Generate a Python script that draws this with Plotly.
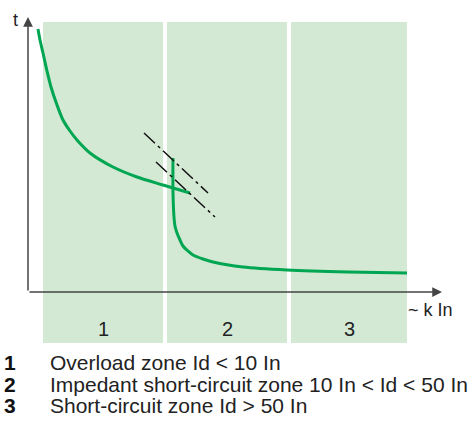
import plotly.graph_objects as go

# Zone extents along the current axis (arbitrary units, origin at the axes corner)
zone_labels = ["1", "2", "3"]
zone_left = [15, 139, 263]
zone_right = [135, 259, 379]
zone_top = 270
zone_bottom = -51

# Overload (long-time) branch of the tripping curve
overload_x = [10, 12, 15, 19, 23, 29, 35, 42, 49, 62, 85, 109, 135, 162]
overload_t = [263, 252, 239, 221, 205, 187, 172, 161, 152, 139, 125, 115, 107, 99]

# Short-time / instantaneous branch
short_x = [145, 145, 146, 147, 149, 152, 155, 160, 165, 175, 185, 215, 259, 320, 379]
short_t = [134, 100, 75, 66, 59, 52, 46, 41, 37, 33, 30, 25, 22, 20, 19]

# Dash-dot tolerance band lines
band_a_x = [116, 180]
band_a_t = [159, 99]
band_b_x = [128, 187]
band_b_t = [130, 75]

legend_nums = ["1", "2", "3"]
legend_texts = [
    "Overload zone Id < 10 In",
    "Impedant short-circuit zone 10 In < Id < 50 In",
    "Short-circuit zone Id > 50 In",
]

FONT = "Arial, Liberation Sans, sans-serif"
GREEN = "#00a651"
ZONE_FILL = "#d3e9d3"
AXIS = "#444444"

fig = go.Figure()

# Zone backgrounds
shapes = []
for x0, x1 in zip(zone_left, zone_right):
    shapes.append(dict(type="rect", xref="x", yref="y", x0=x0, x1=x1,
                       y0=zone_bottom, y1=zone_top, fillcolor=ZONE_FILL,
                       line=dict(width=0), layer="below"))

fig.add_trace(go.Scatter(x=overload_x, y=overload_t, mode="lines",
                         line=dict(color=GREEN, width=3, shape="spline", smoothing=0.8),
                         hoverinfo="skip"))
fig.add_trace(go.Scatter(x=short_x, y=short_t, mode="lines",
                         line=dict(color=GREEN, width=3, shape="spline", smoothing=0.8),
                         hoverinfo="skip"))
for bx, bt in ((band_a_x, band_a_t), (band_b_x, band_b_t)):
    fig.add_trace(go.Scatter(x=bx, y=bt, mode="lines",
                             line=dict(color="#111111", width=1.5,
                                       dash="15px,4px,3px,4px"),
                             hoverinfo="skip"))

annotations = []
# Axes with arrowheads
annotations.append(dict(x=0, y=275, ax=0, ay=0, xref="x", yref="y",
                        axref="x", ayref="y", showarrow=True, arrowhead=2,
                        arrowsize=1.3, arrowwidth=1.5, arrowcolor=AXIS, text=""))
annotations.append(dict(x=414, y=0, ax=0, ay=0, xref="x", yref="y",
                        axref="x", ayref="y", showarrow=True, arrowhead=2,
                        arrowsize=1.3, arrowwidth=1.5, arrowcolor=AXIS, text=""))
annotations.append(dict(x=-13, y=272, xref="x", yref="y", text="t",
                        showarrow=False, font=dict(family=FONT, size=18, color="#222")))
annotations.append(dict(x=427, y=-18, xref="x", yref="y", text="~ k In",
                        showarrow=False, xanchor="right",
                        font=dict(family=FONT, size=18, color="#222")))
for lbl, x0, x1 in zip(zone_labels, zone_left, zone_right):
    annotations.append(dict(x=(x0 + x1) / 2, y=-37, xref="x", yref="y", text=lbl,
                            showarrow=False,
                            font=dict(family=FONT, size=20, color="#222")))

legend_y = [-70, -92, -113]
for num, txt, ly in zip(legend_nums, legend_texts, legend_y):
    annotations.append(dict(x=-18, y=ly, xref="x", yref="y", text="<b>%s</b>" % num,
                            showarrow=False, xanchor="center",
                            font=dict(family=FONT, size=21, color="#111")))
    annotations.append(dict(x=20, y=ly, xref="x", yref="y", text=txt,
                            showarrow=False, xanchor="left",
                            font=dict(family=FONT, size=21, color="#222")))

fig.update_layout(
    width=475, height=423,
    margin=dict(l=0, r=0, t=0, b=0),
    paper_bgcolor="white", plot_bgcolor="white",
    showlegend=False,
    shapes=shapes,
    annotations=annotations,
    xaxis=dict(range=[-28, 447], visible=False, fixedrange=True),
    yaxis=dict(range=[-131, 292], visible=False, fixedrange=True),
)

fig.write_html("out.html")
